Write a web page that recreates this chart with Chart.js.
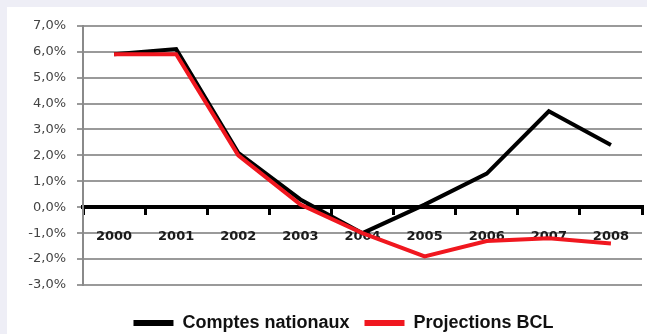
<!DOCTYPE html>
<html>
<head>
<meta charset="utf-8">
<script src="https://cdn.jsdelivr.net/npm/chart.js@4/dist/chart.umd.min.js"></script>
<style>
  html, body { margin: 0; padding: 0; background: #eeeef6; overflow: hidden; }
  #wrap { position: absolute; left: 7px; top: 7px; width: 640px; height: 327px; background: #fff; }
</style>
</head>
<body>
<div id="wrap"><canvas id="growth" width="640" height="327"></canvas></div>
<script>
const years = ['2000', '2001', '2002', '2003', '2004', '2005', '2006', '2007', '2008'];
const comptesNationaux = [5.9, 6.1, 2.1, 0.3, -1.0, 0.1, 1.3, 3.7, 2.4];
const projectionsBCL = [5.9, 5.9, 2.0, 0.1, -1.0, -1.9, -1.3, -1.2, -1.4];
const yTicks = [-3, -2, -1, 0, 1, 2, 3, 4, 5, 6, 7];

// move the legend a bit lower / right after layout
const legendShift = {
    id: 'legendShift',
    afterLayout(chart) {
        const l = chart.legend;
        l.top += 14; l.bottom += 14;
        l.left += 19; l.right += 19;
    }
};

const ctx = document.getElementById('growth');
const chart = new Chart(ctx, {
    type: 'line',
    data: {
        labels: years,
        datasets: [{
            label: 'Comptes nationaux',
            data: comptesNationaux,
            borderColor: '#000',
            backgroundColor: '#000',
            borderWidth: 4,
            pointRadius: 0,
            tension: 0,
            order: 1
        }, {
            label: 'Projections BCL',
            data: projectionsBCL,
            borderColor: '#f0171f',
            backgroundColor: '#f0171f',
            borderWidth: 4,
            pointRadius: 0,
            tension: 0,
            order: 0
        }]
    },
    options: {
        responsive: false,
        animation: false,
        layout: { padding: { top: 18, right: 5, left: 0, bottom: 6 } },
        plugins: {
            tooltip: { enabled: false },
            legend: {
                position: 'bottom',
                labels: {
                    usePointStyle: true,
                    pointStyle: 'line',
                    pointStyleWidth: 40,
                    padding: 15,
                    color: '#111',
                    font: { family: '"Liberation Sans", Arial, sans-serif', size: 18, weight: 'bold' },
                    generateLabels(chart) {
                        const items = Chart.defaults.plugins.legend.labels.generateLabels(chart);
                        items.forEach(it => { it.lineWidth = 6; });
                        return items.sort((a, b) => a.datasetIndex - b.datasetIndex);
                    }
                }
            }
        },
        scales: {
            x: {
                type: 'category',
                position: { y: 0 },
                offset: true,
                grid: { offset: true, drawOnChartArea: false, color: '#000', lineWidth: 3, tickLength: 6 },
                border: { color: '#000', width: 4 },
                ticks: {
                    color: '#1a1a1a',
                    padding: 16,
                    font: { family: '"DejaVu Sans", Verdana, sans-serif', size: 13, weight: 'bold' }
                }
            },
            y: {
                min: -3,
                max: 7,
                afterBuildTicks(scale) {
                    scale.ticks = yTicks.map(v => ({ value: v }));
                },
                afterFit(scale) { scale.width = 76; },
                grid: { color: '#9a9a9a', lineWidth: 2, tickLength: 6 },
                border: { color: '#8a8a8a', width: 2 },
                ticks: {
                    color: '#444',
                    padding: 11,
                    font: { family: '"DejaVu Sans", Verdana, sans-serif', size: 13 },
                    callback: v => v.toFixed(1).replace('.', ',') + '%'
                }
            }
        }
    },
    plugins: [legendShift]
});
</script>
</body>
</html>
